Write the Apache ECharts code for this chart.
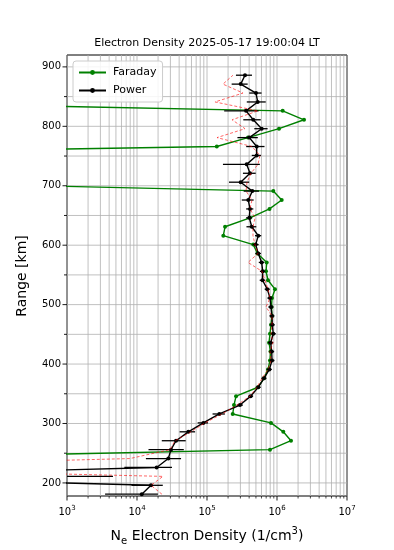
<!DOCTYPE html>
<html><head><meta charset="utf-8">
<script src="https://cdn.jsdelivr.net/npm/echarts@6/dist/echarts.min.js"></script>
<style>html,body{margin:0;padding:0;background:#fff}#c{width:394px;height:550px}</style>
</head><body><div id="c"></div>
<script>
// Range gates (km)
const ranges = [181,196,211,226,241,256,271,286,301,316,331,346,361,376,391,406,421,436,451,466,481,496,511,526,541,556,571,586,601,616,631,646,661,676,691,706,721,736,751,766,781,796,811,826,841,856,871,886];
// Power-based electron density (1/cm^3)
const powerNe = [11700,15850,0.3,19100,28000,30600,36100,54100,88500,150000,296000,421000,540000,652000,777000,849000,840000,813000,885000,857000,849000,821000,794000,727000,621000,625000,604000,540000,496000,540000,436000,402000,411000,389000,444000,303000,411000,369000,513000,513000,402000,604000,458000,361000,530000,501000,303000,349000];
// Power error (1/cm^3)
const powerErr = [8200,7500,4540,12500,14600,16000,13500,13500,15000,30000,30000,35000,45000,55000,65000,70000,70000,70000,75000,70000,70000,70000,65000,60000,55000,55000,55000,50000,50000,55000,70000,40000,48000,75000,110000,97000,85000,200000,77000,150000,130000,130000,128000,185000,160000,100000,78000,90000];
// Faraday electron density (1/cm^3)
const faradayNe = [null,null,null,null,1,794000,1585000,1230000,821000,233000,243000,260000,535000,652000,744000,794000,807000,769000,794000,821000,849000,835000,849000,936000,744000,697000,713000,526000,458000,171000,181000,411000,781000,1167000,885000,2.6,null,null,0.002,138000,385000,1069000,2432000,1205000,0.5,null,null,null];
// Alternate (red dashed) profile
const altNe = [22700,15850,23500,0.1,7940,29600,34900,59100,93600,164000,268000,411000,518000,611000,744000,821000,794000,877000,821000,849000,849000,697000,794000,744000,674000,611000,385000,535000,485000,454000,454000,485000,411000,439000,361000,373000,425000,535000,571000,439000,139000,349000,228000,535000,130000,327000,169000,235000];
// Axis ticks
const xDecades = [1e3,1e4,1e5,1e6];
const xMinorMult = [2,3,4,5,6,7,8,9];
const xMax = 1e7;
const yTicks = [200,250,300,350,400,450,500,550,600,650,700,750,800,850,900];
const yMin = 178, yMaxV = 920;

const FONT = 'DejaVu Sans';
const chart = echarts.init(document.getElementById('c'), null, {renderer:'canvas'});

const xGridData = [];
xDecades.forEach(d => {
  xGridData.push([d, 500, 1]);
  xMinorMult.forEach(m => xGridData.push([d*m, 500, 0]));
});
xGridData.push([xMax, 500, 1]);
const yGridData = yTicks.map(v => [1e4, v, v % 100 === 0 ? 1 : 0]);

const toPairs = arr => ranges.map((r,i) => [arr[i] == null ? NaN : arr[i], r]);
const errData = ranges.map((r,i) => [Math.max(powerNe[i]-powerErr[i], 1000), Math.min(powerNe[i]+powerErr[i], xMax), r]);

const option = {
  animation: false,
  backgroundColor: '#fff',
  textStyle: {fontFamily: FONT},
  grid: {left: 67, right: 47, top: 55, bottom: 54, show: true, borderColor: '#000', borderWidth: 1, backgroundColor: 'transparent'},
  legend: {
    data: ['Faraday','Power'], orient: 'vertical', left: 73, top: 61,
    itemWidth: 27, itemHeight: 6, itemGap: 7,
    padding: [6, 6, 6, 5],
    borderColor: '#cccccc', borderWidth: 1, borderRadius: 3, backgroundColor: 'rgba(255,255,255,0.85)',
    textStyle: {fontFamily: FONT, fontSize: 11, color: '#000', padding: [0,0,0,2]}
  },
  xAxis: {
    type: 'log', logBase: 10, min: 1e3, max: xMax,
    axisLine: {show: false}, axisTick: {show: false}, splitLine: {show: false},
    axisLabel: {
      margin: 9, color: '#000',
      formatter: v => '{b|10}{s|' + Math.round(Math.log10(v)) + '}',
      rich: {b: {fontFamily: FONT, fontSize: 10, color:'#000', lineHeight: 12, verticalAlign:'bottom'},
             s: {fontFamily: FONT, fontSize: 7, color:'#000', lineHeight: 12, verticalAlign:'top'}}
    }
  },
  yAxis: {
    type: 'value', min: yMin, max: yMaxV, splitNumber: 7,
    axisLine: {show: false}, axisTick: {show: false}, splitLine: {show: false},
    axisLabel: {margin: 6, color: '#000', fontFamily: FONT, fontSize: 10,
      formatter: v => (v % 100 === 0 && v >= 200 && v <= 900) ? String(v) : ''}
  },
  graphic: [
    {type:'text', x: 207, y: 43, style:{text:'Electron Density 2025-05-17 19:00:04 LT', fontFamily: FONT, fontSize: 11, fill:'#000', align:'center', verticalAlign:'middle'}},
    {type:'text', x: 22, y: 276, rotation: Math.PI/2, style:{text:'Range [km]', fontFamily: FONT, fontSize: 14, fill:'#000', align:'center', verticalAlign:'middle'}},
    {type:'text', x: 207, y: 536, style:{
      text:'{n|N}{sub|e}{n| Electron Density (1/cm}{sup|3}{n|)}', align:'center', verticalAlign:'middle',
      rich:{n:{fontFamily: FONT, fontSize: 14, fill:'#000', lineHeight: 20, verticalAlign:'middle'},
            sub:{fontFamily: FONT, fontSize: 10, fill:'#000', lineHeight: 20, verticalAlign:'bottom'},
            sup:{fontFamily: FONT, fontSize: 10, fill:'#000', lineHeight: 20, verticalAlign:'top'}}
    }}
  ],
  series: [
    {type:'custom', name:'xgrid', silent: true, z: 0, clip: false, data: xGridData, encode:{x:0, y:1},
     renderItem: (params, api) => {
       const cs = params.coordSys; const major = api.value(2);
       const x = api.coord([api.value(0), 500])[0];
       return {type:'group', children:[
         {type:'line', shape:{x1:x, y1:cs.y, x2:x, y2:cs.y+cs.height}, style:{stroke:'#b0b0b0', lineWidth:0.8}},
         {type:'line', shape:{x1:x, y1:cs.y+cs.height, x2:x, y2:cs.y+cs.height+(major?4.5:2.5)}, style:{stroke:'#000', lineWidth: major?0.9:0.7}}
       ]};
     }},
    {type:'custom', name:'ygrid', silent: true, z: 0, clip: false, data: yGridData, encode:{x:0, y:1},
     renderItem: (params, api) => {
       const cs = params.coordSys; const major = api.value(2);
       const y = api.coord([1e4, api.value(1)])[1];
       return {type:'group', children:[
         {type:'line', shape:{x1:cs.x, y1:y, x2:cs.x+cs.width, y2:y}, style:{stroke:'#b0b0b0', lineWidth:0.8}},
         {type:'line', shape:{x1:cs.x-(major?4.5:3), y1:y, x2:cs.x, y2:y}, style:{stroke:'#000', lineWidth:0.9}}
       ]};
     }},
    {type:'line', name:'Faraday', data: toPairs(faradayNe), z: 2, clip: true,
     symbol:'circle', symbolSize: 4, showSymbol: true, connectNulls: false,
     itemStyle:{color:'#008000'}, lineStyle:{color:'#008000', width:1.4}},
    {type:'custom', name:'PowerErr', z: 3, silent: true, data: errData, encode:{x:[0,1], y:2},
     renderItem: (params, api) => {
       const p1 = api.coord([api.value(0), api.value(2)]);
       const p2 = api.coord([api.value(1), api.value(2)]);
       return {type:'line', shape:{x1:p1[0], y1:p1[1], x2:p2[0], y2:p2[1]}, style:{stroke:'#000', lineWidth:1.3}};
     }},
    {type:'line', name:'Power', data: toPairs(powerNe), z: 3, clip: true,
     symbol:'circle', symbolSize: 4, showSymbol: true,
     itemStyle:{color:'#000'}, lineStyle:{color:'#000', width:1.4}},
    {type:'line', name:'alt', data: toPairs(altNe), z: 4, clip: true,
     symbol:'none', lineStyle:{color:'#ff0000', width:0.6, type:[3,2]}}
  ]
};
chart.setOption(option);
</script></body></html>
